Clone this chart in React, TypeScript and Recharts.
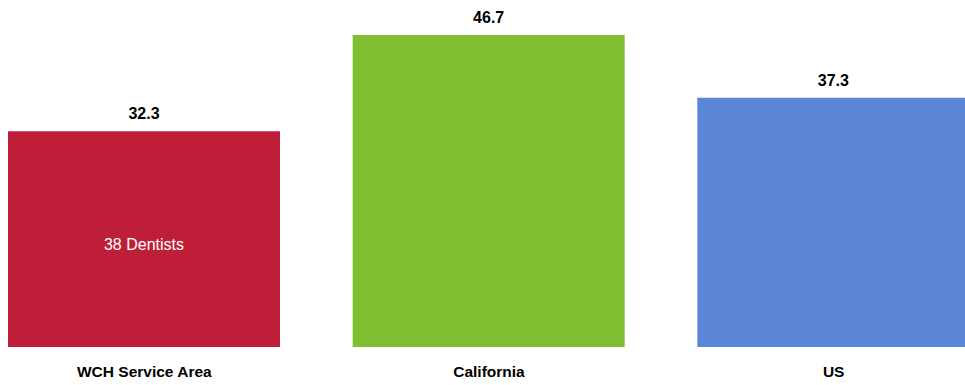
import { BarChart, Bar, XAxis, YAxis, Cell, LabelList } from "recharts";

const CATEGORIES = ["WCH Service Area", "California", "US"];
const VALUES = [32.3, 46.7, 37.3];
const NOTES = ["38 Dentists", "", ""];
const COLORS = ["#BE1E37", "#80BE32", "#5B85D6"];

const FONT = '"Liberation Sans", Arial, sans-serif';

const data = CATEGORIES.map((name, i) => ({
  name,
  value: VALUES[i],
  note: NOTES[i],
}));

export default function App() {
  return (
    <div
      style={{
        position: "absolute",
        left: 0,
        top: 0,
        width: 965,
        height: 385,
        overflow: "hidden",
        background: "#fff",
        fontFamily: FONT,
      }}
    >
      <div style={{ position: "absolute", left: -28, top: 0 }}>
        <BarChart
          width={1034}
          height={385}
          data={data}
          margin={{ top: 13, right: 0, bottom: 0, left: 0 }}
        >
          <XAxis
            dataKey="name"
            height={38}
            axisLine={false}
            tickLine={false}
            tickMargin={13}
            tick={{ fill: "#000", fontSize: 15.5, fontWeight: "bold", fontFamily: FONT }}
            interval={0}
          />
          <YAxis hide domain={[0, 50]} />
          <Bar dataKey="value" barSize={272} isAnimationActive={false}>
            {data.map((entry, index) => (
              <Cell key={`cell-${index}`} fill={COLORS[index]} />
            ))}
            <LabelList
              dataKey="value"
              position="top"
              offset={12}
              fill="#000"
              fontSize={16}
              fontWeight="bold"
              fontFamily={FONT}
              formatter={(v: number) => v.toFixed(1)}
            />
            <LabelList
              dataKey="note"
              position="center"
              dy={5}
              fill="#fff"
              fontSize={16}
              fontFamily={FONT}
            />
          </Bar>
        </BarChart>
      </div>
    </div>
  );
}
